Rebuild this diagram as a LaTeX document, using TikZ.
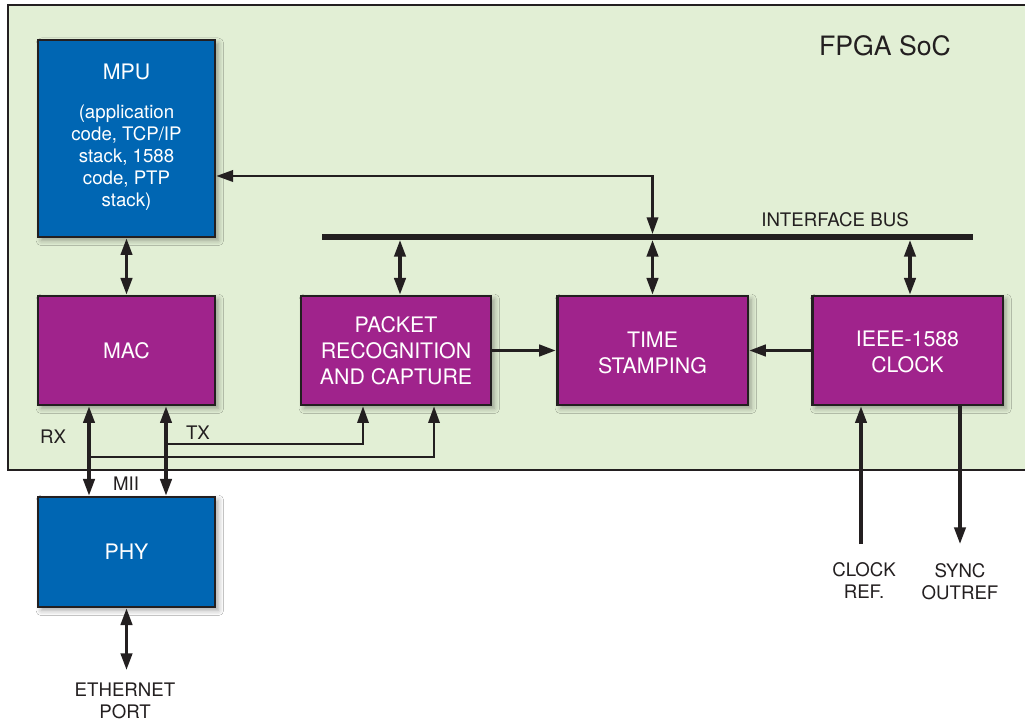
\documentclass[tikz,border=0pt]{standalone}
\usepackage{fontspec}
\setmainfont{TeX Gyre Heros}
\usetikzlibrary{arrows.meta,shadows.blur,calc}

\definecolor{socgreen}{HTML}{E2EFD5}
\definecolor{cpublue}{HTML}{0066B3}
\definecolor{ippurple}{HTML}{A0238C}
\definecolor{ink}{HTML}{231F20}

\tikzset{
  block/.style={draw=ink, line width=2pt, text=white, align=center,
    font=\fontsize{16}{19.5}\selectfont,
    minimum width=132.75pt, minimum height=81.75pt, inner sep=0pt,
    blur shadow={shadow xshift=2.5pt, shadow yshift=-2.5pt,
                 shadow blur radius=4pt, shadow opacity=35}},
  cpu/.style={block, fill=cpublue},
  ipblock/.style={block, fill=ippurple, minimum width=143pt},
  blocktext/.style={text=white, align=center, inner sep=0pt, font=\fontsize{16}{19.5}\selectfont},
  lbl/.style={text=ink, font=\fontsize{14}{16.5}\selectfont, align=center, inner sep=0pt},
  wire/.style={draw=ink, line width=2.4pt},
  thinwire/.style={draw=ink, line width=1.8pt},
  head/.tip={Triangle[length=12.5pt,width=8.5pt]},
  both/.style={head-head},
  fwd/.style={-head},
}

\begin{document}
\begin{tikzpicture}[x=0.75pt, y=-0.75pt]
  \useasboundingbox (0,0) rectangle (1025,723);
  \fill[white] (0,0) rectangle (1025,723);

  % FPGA SoC device outline
  \draw[draw=ink, line width=1.6pt, fill=socgreen] (8,5) rectangle (1040,470);
  \node[text=ink, font=\fontsize{20}{24}\selectfont, inner sep=0pt] (soc) at (885,46) {FPGA SoC};

  % processor and IP blocks
  \node[cpu, minimum height=147.75pt] (mpu) at (126.5,138.5) {};
  \node[blocktext] (mputitle) at (126.5,72) {MPU};
  \node[blocktext, font=\fontsize{14}{16.5}\selectfont] (mpudesc) at (126.5,157.5)
    {(application\\code, TCP/IP\\stack, 1588\\code, PTP\\stack)};

  \node[ipblock, minimum width=132.75pt] (mac) at (126.5,350.5) {MAC};
  \node[ipblock, minimum width=142.5pt] (prc) at (396,350.5) {PACKET\\RECOGNITION\\AND CAPTURE};
  \node[ipblock] (ts) at (652.5,350.5) {};
  \node[blocktext] (tstext) at (652.5,352.5) {TIME\\STAMPING};
  \node[ipblock] (clk) at (907.5,350.5) {};
  \node[blocktext] (clktext) at (907.5,351.5) {IEEE-1588\\CLOCK};

  \node[cpu, minimum height=82.5pt] (phy) at (126.5,552) {PHY};

  % interface bus
  \coordinate (busW) at (322,237);
  \coordinate (busE) at (973,237);
  \draw[draw=ink, line width=4.5pt] (busW) -- (busE);
  \node[lbl] (buslbl) at (835,220) {INTERFACE BUS};

  % bus taps
  \coordinate (tapP) at (400,240);
  \coordinate (tapT) at (652.5,240);
  \coordinate (tapC) at (910,240);
  \draw[wire, both] (tapP) -- (tapP |- prc.north);
  \draw[wire, both] (tapT) -- (ts.north);
  \draw[wire, both] (tapC) -- (tapC |- clk.north);

  % MPU to bus
  \coordinate (mpuBus) at (652.5,176);
  \coordinate (busTop) at (652.5,234);
  \draw[thinwire, both] (mpu.east |- mpuBus) -- (mpuBus) -- (busTop);
  \draw[wire, both] (mpu) -- (mac);

  % data flow into time stamping
  \draw[wire, fwd] (prc.east) -- (ts.west);
  \draw[wire, fwd] (clk.west) -- (ts.east);

  % MII receive and transmit
  \coordinate (rx) at (89,405);
  \coordinate (tx) at (166,405);
  \draw[wire, both] (mac.south -| rx) -- (phy.north -| rx);
  \draw[wire, both] (mac.south -| tx) -- (phy.north -| tx);
  \coordinate (txTap) at (166,444);
  \coordinate (txEnd) at (363,444);
  \coordinate (rxTap) at (89,457);
  \coordinate (rxEnd) at (434,457);
  \draw[thinwire, fwd] (txTap) -- (txEnd) -- (txEnd |- prc.south);
  \draw[thinwire, fwd] (rxTap) -- (rxEnd) -- (rxEnd |- prc.south);
  \node[lbl] (rxlbl) at (53,437) {RX};
  \node[lbl] (txlbl) at (198,433) {TX};
  \node[lbl] (miilbl) at (126,484) {MII};

  % clock reference and sync output
  \coordinate (clkIn) at (861,544);
  \coordinate (syncOut) at (960,544);
  \draw[wire, fwd] (clkIn) -- (clkIn |- clk.south);
  \draw[wire, fwd] (syncOut |- clk.south) -- (syncOut);
  \node[lbl] (clkref) at (864,581) {CLOCK\\REF.};
  \node[lbl] (syncref) at (960,582) {SYNC\\OUTREF};

  % ethernet port
  \coordinate (eth) at (126.5,670);
  \draw[wire, both] (phy.south) -- (eth);
  \node[lbl] (ethlbl) at (125,701) {ETHERNET\\PORT};
\end{tikzpicture}
\end{document}
